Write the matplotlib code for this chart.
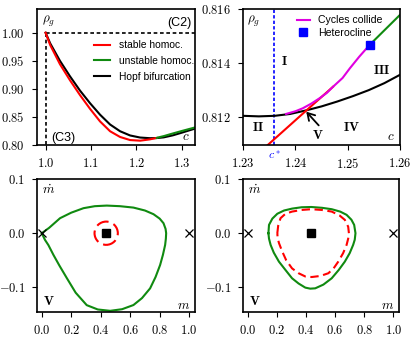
import matplotlib
matplotlib.use("Agg")
import matplotlib.pyplot as plt
from matplotlib.patches import Ellipse
import matplotlib.transforms as mtransforms

plt.rcParams["mathtext.fontset"] = "cm"
plt.rcParams["font.family"] = ["Liberation Sans", "DejaVu Sans"]

RED = "#ff0000"
GREEN = "#108a10"
MAGENTA = "#e000e0"
BLUE = "#0000ff"

# --- top left: bifurcation diagram (c, rho_g) ---
red_c = [1.0, 1.0102, 1.0316, 1.0536, 1.0757, 1.0978, 1.1199, 1.142, 1.164, 1.186, 1.2082, 1.23, 1.2418, 1.245]
red_rho = [1.0, 0.978, 0.944, 0.9155, 0.889, 0.8645, 0.842, 0.8245, 0.8143, 0.8088, 0.8077, 0.8101, 0.8122, 0.8127]

black_c = [1.0, 1.0102, 1.0316, 1.0536, 1.0757, 1.0978, 1.1199, 1.142, 1.164, 1.186, 1.208, 1.23, 1.245, 1.26, 1.28, 1.30, 1.33]
black_rho = [1.0, 0.981, 0.950, 0.9225, 0.897, 0.8745, 0.854, 0.8365, 0.8245, 0.817, 0.8133, 0.8121, 0.8124, 0.8136, 0.8172, 0.822, 0.8295]

green_c = [1.245, 1.2542, 1.26, 1.28, 1.30, 1.33]
green_rho = [0.8127, 0.8147, 0.8158, 0.8205, 0.825, 0.8315]

# --- top right: zoom near c* ---
tr_black_c = [1.23, 1.233, 1.236, 1.239, 1.242, 1.245, 1.248, 1.251, 1.254, 1.257, 1.26]
tr_black_rho = [0.81205, 0.81203, 0.81205, 0.81212, 0.81225, 0.8124, 0.81258, 0.81278, 0.813, 0.81326, 0.81357]

tr_red_c = [1.2347, 1.2418, 1.2472]
tr_red_rho = [0.81097, 0.8122, 0.81313]

tr_mag_c = [1.2382, 1.240, 1.2414, 1.243, 1.2446, 1.246, 1.2472, 1.249, 1.2504, 1.2522, 1.2542]
tr_mag_rho = [0.81212, 0.81222, 0.81233, 0.8125, 0.8127, 0.8129, 0.81313, 0.81345, 0.81381, 0.81424, 0.81468]

tr_green_c = [1.2542, 1.26]
tr_green_rho = [0.81468, 0.81579]

c_star = 1.2359
hetero = (1.2542, 0.81468)

# --- bottom left: homoclinic orbit (m, mdot) ---
hl_m = [0.0, 0.05, 0.124, 0.20, 0.283, 0.36, 0.441, 0.53, 0.622, 0.70, 0.758, 0.80, 0.826, 0.840, 0.844,
        0.842, 0.837, 0.822, 0.803, 0.772, 0.735, 0.68, 0.622, 0.545, 0.464, 0.38, 0.305, 0.23, 0.17,
        0.12, 0.079, 0.045, 0.022, 0.0]
hl_md = [0.0, 0.010, 0.0278, 0.038, 0.0463, 0.050, 0.0511, 0.050, 0.0474, 0.042, 0.0352, 0.027, 0.0185, 0.008, 0.0,
         -0.010, -0.0217, -0.040, -0.0587, -0.081, -0.102, -0.120, -0.1328, -0.1405, -0.1435, -0.141, -0.133, -0.110, -0.083,
         -0.060, -0.040, -0.022, -0.0124, 0.0]

# --- bottom right: two limit cycles ---
gr_m = [0.143, 0.147, 0.17, 0.204, 0.25, 0.305, 0.37, 0.437, 0.51, 0.577, 0.635, 0.679, 0.712, 0.731, 0.740,
        0.735, 0.724, 0.70, 0.667, 0.625, 0.577, 0.52, 0.464, 0.43, 0.396, 0.35, 0.305, 0.26, 0.215, 0.18,
        0.158, 0.147, 0.143]
gr_md = [0.0, 0.0154, 0.027, 0.036, 0.042, 0.0455, 0.048, 0.0485, 0.047, 0.0444, 0.040, 0.034, 0.025, 0.0154, 0.0,
         -0.012, -0.0216, -0.037, -0.0525, -0.068, -0.0833, -0.095, -0.1019, -0.1025, -0.1006, -0.093, -0.0833, -0.068, -0.0525, -0.036,
         -0.0216, -0.010, 0.0]

rd_m = [0.204, 0.21, 0.226, 0.26, 0.305, 0.37, 0.437, 0.51, 0.577, 0.630, 0.667, 0.690, 0.695,
        0.690, 0.679, 0.655, 0.622, 0.59, 0.554, 0.50, 0.44, 0.396, 0.35, 0.305, 0.265, 0.238, 0.215, 0.206, 0.204]
rd_md = [0.0, 0.014, 0.0278, 0.036, 0.040, 0.043, 0.0444, 0.043, 0.040, 0.033, 0.0247, 0.012, 0.0,
         -0.010, -0.0216, -0.037, -0.0525, -0.065, -0.074, -0.079, -0.081, -0.080, -0.074, -0.065, -0.050, -0.034, -0.018, -0.008, 0.0]

centre = (0.437, 0.0)
saddles_m = [0.0, 1.0]
small_ring = (0.158, 0.043)  # width, height of unstable cycle in panel V

fig = plt.figure(figsize=(4.15, 3.38), dpi=100)
ax1 = fig.add_axes([0.089, 0.571, 0.381, 0.402])
ax2 = fig.add_axes([0.586, 0.571, 0.378, 0.402])
ax3 = fig.add_axes([0.090, 0.078, 0.380, 0.392])
ax4 = fig.add_axes([0.586, 0.078, 0.376, 0.392])

def style(ax, xt, xl, yt, yl):
    ax.set_xticks(xt, xl)
    ax.set_yticks(yt, yl)
    ax.tick_params(direction="out", length=3.6, width=0.8, pad=5, labelsize=9)
    for s in ax.spines.values():
        s.set_linewidth(1.2)

lw = 1.5

# top left
ax1.plot([1.0, 1.0], [0.79, 1.0], color="k", ls=(0, (2.2, 1.6)), lw=1.2)
ax1.plot([1.0, 1.4], [1.0, 1.0], color="k", ls=(0, (2.2, 1.6)), lw=1.2)
ax1.plot(red_c, red_rho, color=RED, lw=lw, label="stable homoc.")
ax1.plot(green_c, green_rho, color=GREEN, lw=lw, label="unstable homoc.")
ax1.plot(black_c, black_rho, color="k", lw=lw, label="Hopf bifurcation", zorder=1.9)
ax1.set_xlim(0.981, 1.329)
ax1.set_ylim(0.80, 1.042)
style(ax1, [1.0, 1.1, 1.2, 1.3], ["$1.0$", "$1.1$", "$1.2$", "$1.3$"],
      [0.80, 0.85, 0.90, 0.95, 1.00], ["$0.80$", "$0.85$", "$0.90$", "$0.95$", "$1.00$"])
ax1.legend(loc="upper left", bbox_to_anchor=(0.36, 0.77), frameon=False, fontsize=7.4,
           handlelength=1.6, handletextpad=0.8, labelspacing=0.55, borderpad=0, borderaxespad=0)
ax1.text(0.072, 0.91, r"$\rho_g$", transform=ax1.transAxes, ha="center", va="center", fontsize=9.5)
ax1.text(0.941, 0.06, r"$c$", transform=ax1.transAxes, ha="center", va="center", fontsize=9.5)
ax1.text(0.899, 0.90, "(C2)", transform=ax1.transAxes, ha="center", va="center", fontsize=9)
ax1.text(0.166, 0.055, "(C3)", transform=ax1.transAxes, ha="center", va="center", fontsize=9)

# top right
ax2.axvline(c_star, color=BLUE, ls=(0, (2, 1.3)), lw=1.2)
ax2.plot(tr_black_c, tr_black_rho, color="k", lw=lw)
ax2.plot(tr_red_c, tr_red_rho, color=RED, lw=lw)
ax2.plot(tr_mag_c, tr_mag_rho, color=MAGENTA, lw=lw, label="Cycles collide")
ax2.plot(tr_green_c, tr_green_rho, color=GREEN, lw=lw)
ax2.plot([hetero[0]], [hetero[1]], "s", color=BLUE, ms=6, label="Heterocline")
ax2.set_xlim(1.23, 1.26)
ax2.set_ylim(0.81097, 0.816)
style(ax2, [1.23, 1.24, 1.25, 1.26], ["$1.23$", "$1.24$", "$1.25$", "$1.26$"],
      [0.812, 0.814, 0.816], ["$0.812$", "$0.814$", "$0.816$"])
ax2.legend(loc="upper left", bbox_to_anchor=(0.34, 0.955), frameon=False, fontsize=7.6, numpoints=1,
           handlelength=1.3, handletextpad=0.75, labelspacing=0.25, borderpad=0, borderaxespad=0)
ax2.text(0.064, 0.91, r"$\rho_g$", transform=ax2.transAxes, ha="center", va="center", fontsize=9.5)
ax2.text(0.943, 0.06, r"$c$", transform=ax2.transAxes, ha="center", va="center", fontsize=9.5)
trans = mtransforms.blended_transform_factory(ax2.transData, ax2.transAxes)
ax2.text(c_star, -0.075, r"$c^*$", transform=trans, ha="center", va="center", fontsize=8.5, color=BLUE)
for lab, cx, ry in [("I", 1.2378, 0.81405), ("II", 1.2328, 0.8116), ("III", 1.2564, 0.81372),
                    ("IV", 1.2508, 0.8116), ("V", 1.2443, 0.81133)]:
    ax2.text(cx, ry, r"$\mathbf{%s}$" % lab, ha="center", va="center", fontsize=9.5)
ax2.annotate("", xy=(1.2417, 0.81228), xytext=(1.2448, 0.81162),
             arrowprops=dict(arrowstyle="->,head_length=0.5,head_width=0.3", lw=1.3, color="k"))

# bottom panels
for ax in (ax3, ax4):
    ax.plot(saddles_m, [0.0, 0.0], "x", color="k", ms=6, mew=0.9, clip_on=False, zorder=4)
    ax.plot([centre[0]], [centre[1]], "s", color="k", ms=5.5, zorder=4)
    ax.set_xlim(-0.03, 1.04)
    ax.set_ylim(-0.145, 0.1)
    style(ax, [0.0, 0.2, 0.4, 0.6, 0.8, 1.0], ["$0.0$", "$0.2$", "$0.4$", "$0.6$", "$0.8$", "$1.0$"],
          [-0.1, 0.0, 0.1], ["$-0.1$", "$0.0$", "$0.1$"])
    ax.text(0.07, 0.915, r"$\dot{m}$", transform=ax.transAxes, ha="center", va="center", fontsize=9.5)
    ax.text(0.076, 0.075, r"$\mathbf{V}$", transform=ax.transAxes, ha="center", va="center", fontsize=9.5)
    ax.text(0.926, 0.04, r"$m$", transform=ax.transAxes, ha="center", va="center", fontsize=9.5)

ax3.plot(hl_m, hl_md, color=GREEN, lw=lw, clip_on=False)
ax3.add_patch(Ellipse(centre, small_ring[0], small_ring[1], fill=False, edgecolor=RED, lw=lw,
                      ls=(0.8, (6, 2.6))))

ax4.plot(gr_m, gr_md, color=GREEN, lw=lw)
ax4.plot(rd_m, rd_md, color=RED, lw=lw, ls=(0, (4, 2.2)))

fig.savefig("out.png", dpi=100)
